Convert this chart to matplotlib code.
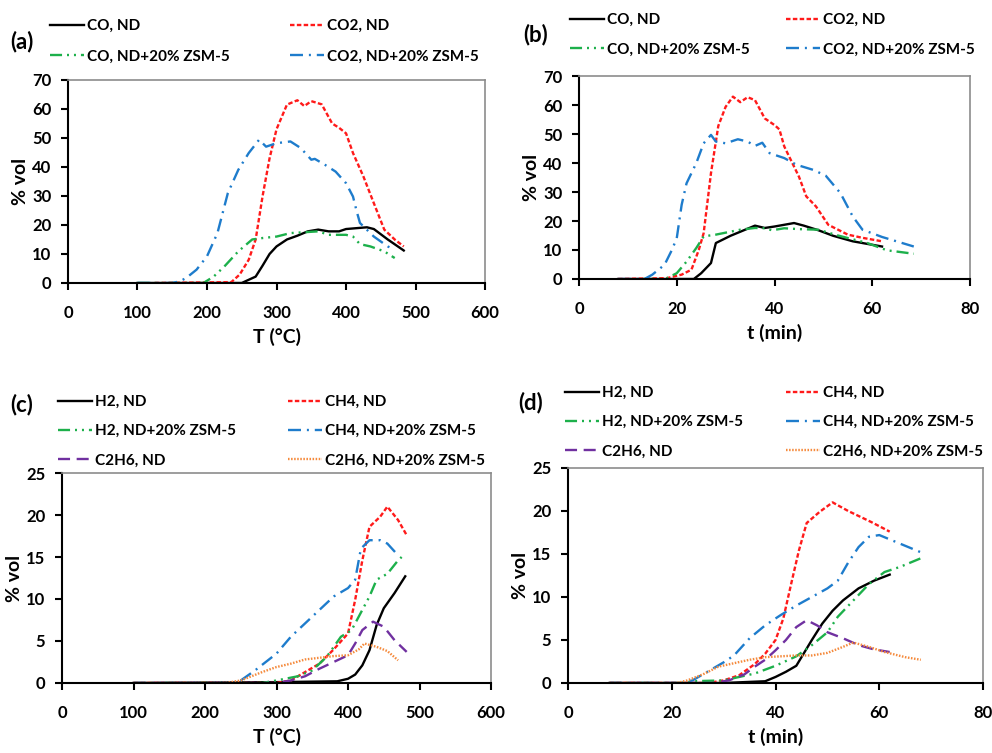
import matplotlib
matplotlib.use("Agg")
import matplotlib.pyplot as plt
from matplotlib.lines import Line2D

plt.rcParams['font.family'] = ['Lato', 'DejaVu Sans']
plt.rcParams['font.weight'] = 'bold'

# ---- panel (a): CO / CO2 vs temperature ----
T_co_nd = [100, 250, 270, 280, 290, 300, 315, 330, 345, 360, 375, 390, 400, 420, 430, 440, 460, 483]
co_nd_T = [0, 0, 2.2, 6, 10, 12.6, 15, 16.3, 17.8, 18.4, 17.8, 17.8, 18.6, 19, 19.2, 18.6, 15, 11.2]
T_co2_nd = [125, 235, 247, 260, 270, 280, 290, 300, 315, 330, 340, 350, 365, 380, 390, 400, 410, 425, 440, 455, 470, 483]
co2_nd_T = [0, 0.3, 2.9, 8, 15, 30, 43, 53, 61.5, 63, 61, 62.7, 61.6, 55, 53.5, 51.6, 44.8, 36.7, 27.5, 18.4, 15, 12.6]
T_co_z = [100, 195, 210, 225, 245, 265, 280, 300, 320, 340, 360, 375, 400, 410, 420, 435, 455, 470]
co_z_T = [0, 0, 2.3, 5.7, 10.9, 15, 15.5, 16, 17.2, 17.5, 17.8, 16.6, 16.6, 16, 13.4, 12.6, 10.9, 8.6]
T_co2_z = [100, 150, 160, 170, 185, 200, 215, 230, 245, 260, 275, 285, 300, 320, 335, 350, 355, 370, 385, 400, 410, 415, 420, 440, 460, 470]
co2_z_T = [0, 0, 0.5, 1.7, 4.6, 9.2, 17.2, 31, 39, 44.8, 49.4, 47, 48.2, 48.8, 46.5, 42.5, 42.8, 40.7, 38.4, 34.4, 29.8, 25, 20.7, 16, 12.6, 11.5]

# ---- panel (b): CO / CO2 vs time ----
t_co_nd = [8, 23.5, 25, 27, 28, 31, 34, 36, 38, 40, 42, 44, 46, 49, 52, 56, 62]
co_nd_t = [0, 0, 2, 5.5, 12.4, 14.9, 17, 18.4, 17.6, 18.1, 18.7, 19.3, 18.4, 16.8, 14.9, 13, 11.2]
t_co2_nd = [8, 18, 21, 23, 24.5, 25.5, 27, 28.5, 30, 31.5, 33, 34.5, 36, 38, 40, 41, 42, 43.5, 45, 46.5, 48.5, 51, 55, 58, 62]
co2_nd_t = [0, 0.3, 1.5, 3.2, 10, 15.8, 36.5, 52.8, 59.4, 62.9, 61, 62.7, 61.7, 55.4, 53.1, 51.6, 45.7, 40.5, 35.3, 28.5, 25, 18.7, 15.3, 14.2, 13]
t_co_z = [13, 17, 18, 20, 22, 24, 25.5, 28, 33, 36, 38, 39.5, 42, 45, 49, 53, 59, 63, 68.5]
co_z_t = [0, 0, 0.3, 2, 6, 10.7, 14.7, 15.3, 17, 17.6, 17.5, 16.8, 17.5, 17.2, 17, 15, 12.4, 9.9, 8.7]
t_co2_z = [8, 13.4, 15, 17.5, 19, 20, 21, 22, 24, 25.5, 27, 28, 30, 32.5, 34.5, 36, 37.5, 39, 42, 44.5, 48, 50.5, 53.5, 56, 58, 62, 68.5]
co2_z_t = [0, 0, 1.5, 4.9, 10, 14.1, 25.6, 33, 40, 46.8, 49.7, 47.4, 46.8, 48.2, 47.4, 45.9, 47, 43.4, 41.7, 39.4, 37.6, 35.6, 29.6, 21.6, 17, 14.5, 11.2]

# ---- panel (c): H2 / CH4 / C2H6 vs temperature ----
T_h2_nd = [100, 300, 385, 400, 410, 420, 430, 440, 450, 465, 480]
h2_nd_T = [0, 0.1, 0.2, 0.5, 1, 2.1, 3.9, 6.9, 8.9, 10.7, 12.7]
T_ch4_nd = [100, 300, 320, 340, 360, 380, 400, 410, 420, 430, 445, 455, 470, 482]
ch4_nd_T = [0, 0, 0.3, 1.3, 2.3, 4, 5.9, 9.9, 14.6, 18.6, 19.8, 21, 19.4, 17.6]
T_h2_z = [100, 280, 300, 330, 350, 370, 390, 405, 420, 430, 440, 455, 470, 475]
h2_z_T = [0, 0, 0.3, 0.8, 1.5, 3.1, 5.5, 6.3, 8.7, 10.3, 12.3, 13, 14.6, 15]
T_ch4_z = [100, 240, 250, 270, 300, 320, 340, 360, 380, 400, 410, 418, 430, 445, 455, 470]
ch4_z_T = [0, 0, 0.3, 1.5, 3.5, 5.5, 7.1, 8.7, 10.3, 11.3, 12.3, 16, 17, 17, 16.6, 15.2]
T_c2h6_nd = [100, 300, 320, 340, 360, 380, 400, 410, 420, 435, 450, 465, 482]
c2h6_nd_T = [0, 0, 0.3, 0.8, 1.7, 2.5, 3.3, 4.7, 6.3, 7.3, 6.7, 5.1, 3.7]
T_c2h6_z = [100, 230, 250, 280, 300, 320, 340, 360, 380, 400, 415, 423, 440, 455, 470]
c2h6_z_T = [0, 0, 0.3, 1.3, 1.9, 2.3, 2.8, 3, 3.2, 3.3, 4, 4.7, 4.3, 3.8, 2.7]

# ---- panel (d): H2 / CH4 / C2H6 vs time ----
t_h2_nd = [8, 30, 38, 40, 42, 44, 45, 47, 49, 51, 53, 56, 59, 62]
h2_nd_t = [0, 0, 0.2, 0.7, 1.3, 2, 3, 5, 6.9, 8.4, 9.6, 11, 11.9, 12.6]
t_ch4_nd = [8, 27, 30, 33, 36, 38, 40, 41.5, 43, 44.5, 46, 48.5, 51, 54, 58.5, 62]
ch4_nd_t = [0, 0, 0.3, 0.9, 2.2, 3.4, 5, 7.5, 11.5, 15.4, 18.6, 19.9, 21, 20, 18.7, 17.6]
t_h2_z = [8, 22, 24, 30, 36, 40, 44, 47, 50, 52, 55, 58, 61, 64, 68]
h2_z_t = [0, 0, 0.2, 0.3, 1.1, 2, 3.1, 4.4, 5.9, 7.7, 9.6, 11.5, 12.9, 13.5, 14.5]
t_ch4_z = [8, 22, 24, 26, 30, 32, 35, 38, 41, 44, 47, 50, 52, 54, 56, 58, 60, 64, 68]
ch4_z_t = [0, 0, 0.3, 1, 2.4, 3.2, 5.2, 6.7, 7.9, 9, 10, 11, 11.9, 14, 15.8, 17, 17.2, 16.2, 15.2]
t_c2h6_nd = [8, 28, 31, 34, 36, 38, 40, 42, 44, 46, 48, 50, 53, 56, 59, 62]
c2h6_nd_t = [0, 0, 0.3, 1, 1.9, 2.7, 3.8, 5, 6.5, 7.3, 6.7, 5.9, 5.2, 4.4, 3.9, 3.6]
t_c2h6_z = [8, 21, 23, 26, 29, 32, 35, 38, 41, 44, 47, 50, 53, 55, 58, 61, 65, 68]
c2h6_z_t = [0, 0, 0.3, 1, 1.9, 2.3, 2.7, 3, 3.1, 3.2, 3.2, 3.5, 4.2, 4.7, 4.2, 3.6, 3, 2.7]

# estilos de linea (tipo Excel), patrones en unidades de grosor de linea
LW = 1.7
BLACK = dict(color="black", linestyle="-", lw=LW)
RED = dict(color="#ff1a1a", linestyle=(0, (1.9, 1.0)), lw=LW)
GREEN = dict(color="#1db04b", linestyle=(0, (5.1, 2.1, 0.85, 2.1, 0.85, 2.1)), lw=LW)
BLUE = dict(color="#1e7ccc", linestyle=(0, (5.5, 2.5, 0.85, 2.5)), lw=LW)
PURPLE = dict(color="#7030a0", linestyle=(0, (5.1, 2.8)), lw=LW)
ORANGE = dict(color="#f58a3c", linestyle=(0, (0.65, 0.65)), lw=LW)

W, H = 992, 753


def estilo_ejes(ax, xmax, xstep, ymax, ystep, xlabel):
    ax.set_xlim(0, xmax)
    ax.set_ylim(0, ymax)
    ax.set_xticks(range(0, xmax + 1, xstep))
    ax.set_yticks(range(0, ymax + 1, ystep))
    for s in ("top", "right"):
        ax.spines[s].set_color("#8c8c8c")
        ax.spines[s].set_linewidth(1.2)
    for s in ("left", "bottom"):
        ax.spines[s].set_color("black")
        ax.spines[s].set_linewidth(1.5)
    ax.tick_params(direction="out", length=5, width=1.5, labelsize=12)
    ax.tick_params(axis="x", pad=11)
    ax.tick_params(axis="y", pad=7)
    for lab in ax.get_xticklabels() + ax.get_yticklabels():
        lab.set_fontweight("bold")
    ax.set_xlabel(xlabel, fontsize=14, fontweight="bold", labelpad=5)
    ax.set_ylabel("% vol", fontsize=14, fontweight="bold", labelpad=2)


def columna(items, x_px, top_px, espacio):
    # una columna de leyenda colocada en pixeles de la figura
    handles = [Line2D([], [], **st) for _, st in items]
    labels = [lab for lab, _ in items]
    fig.legend(handles, labels, loc="upper left",
               bbox_to_anchor=(x_px / W, 1 - top_px / H),
               frameon=False, handlelength=2.2, handletextpad=0.2,
               labelspacing=espacio, borderpad=0, borderaxespad=0,
               prop={"weight": "bold", "size": 11})


fig = plt.figure(figsize=(9.92, 7.53), dpi=100)
ax_a = fig.add_axes([0.0685, 0.6242, 0.4205, 0.2696])
ax_b = fig.add_axes([0.5837, 0.6295, 0.3941, 0.2695])
ax_c = fig.add_axes([0.0625, 0.0930, 0.4325, 0.2788])
ax_d = fig.add_axes([0.5726, 0.0930, 0.4184, 0.2855])

# (a)
ax_a.plot(T_co_nd, co_nd_T, **BLACK)
ax_a.plot(T_co2_nd, co2_nd_T, **RED)
ax_a.plot(T_co_z, co_z_T, **GREEN)
ax_a.plot(T_co2_z, co2_z_T, **BLUE)
estilo_ejes(ax_a, 600, 100, 70, 10, "T (°C)")
columna([("CO, ND", BLACK), ("CO, ND+20% ZSM-5", GREEN)], 50, 19, 1.08)
columna([("CO2, ND", RED), ("CO2, ND+20% ZSM-5", BLUE)], 290, 19, 1.08)

# (b)
ax_b.plot(t_co_nd, co_nd_t, **BLACK)
ax_b.plot(t_co2_nd, co2_nd_t, **RED)
ax_b.plot(t_co_z, co_z_t, **GREEN)
ax_b.plot(t_co2_z, co2_z_t, **BLUE)
estilo_ejes(ax_b, 80, 20, 70, 10, "t (min)")
columna([("CO, ND", BLACK), ("CO, ND+20% ZSM-5", GREEN)], 570, 13, 1.03)
columna([("CO2, ND", RED), ("CO2, ND+20% ZSM-5", BLUE)], 786, 13, 1.03)

# (c)
ax_c.plot(T_h2_nd, h2_nd_T, **BLACK)
ax_c.plot(T_ch4_nd, ch4_nd_T, **RED)
ax_c.plot(T_h2_z, h2_z_T, **GREEN)
ax_c.plot(T_ch4_z, ch4_z_T, **BLUE)
ax_c.plot(T_c2h6_nd, c2h6_nd_T, **PURPLE)
ax_c.plot(T_c2h6_z, c2h6_z_T, **ORANGE)
estilo_ejes(ax_c, 600, 100, 25, 5, "T (°C)")
columna([("H2, ND", BLACK), ("H2, ND+20% ZSM-5", GREEN), ("C2H6, ND", PURPLE)], 58, 395, 1.0)
columna([("CH4, ND", RED), ("CH4, ND+20% ZSM-5", BLUE), ("C2H6, ND+20% ZSM-5", ORANGE)], 288, 395, 1.0)

# (d)
ax_d.plot(t_h2_nd, h2_nd_t, **BLACK)
ax_d.plot(t_ch4_nd, ch4_nd_t, **RED)
ax_d.plot(t_h2_z, h2_z_t, **GREEN)
ax_d.plot(t_ch4_z, ch4_z_t, **BLUE)
ax_d.plot(t_c2h6_nd, c2h6_nd_t, **PURPLE)
ax_d.plot(t_c2h6_z, c2h6_z_t, **ORANGE)
estilo_ejes(ax_d, 80, 20, 25, 5, "t (min)")
columna([("H2, ND", BLACK), ("H2, ND+20% ZSM-5", GREEN), ("C2H6, ND", PURPLE)], 565, 386, 1.0)
columna([("CH4, ND", RED), ("CH4, ND+20% ZSM-5", BLUE), ("C2H6, ND+20% ZSM-5", ORANGE)], 786, 386, 1.0)

# etiquetas de panel
for x, y, txt in [(10, 42, "(a)"), (523, 35, "(b)"), (10, 405, "(c)"), (518, 403, "(d)")]:
    fig.text(x / W, 1 - y / H, txt, fontsize=16, fontweight="bold", va="center")

fig.savefig("out.png", dpi=100)
